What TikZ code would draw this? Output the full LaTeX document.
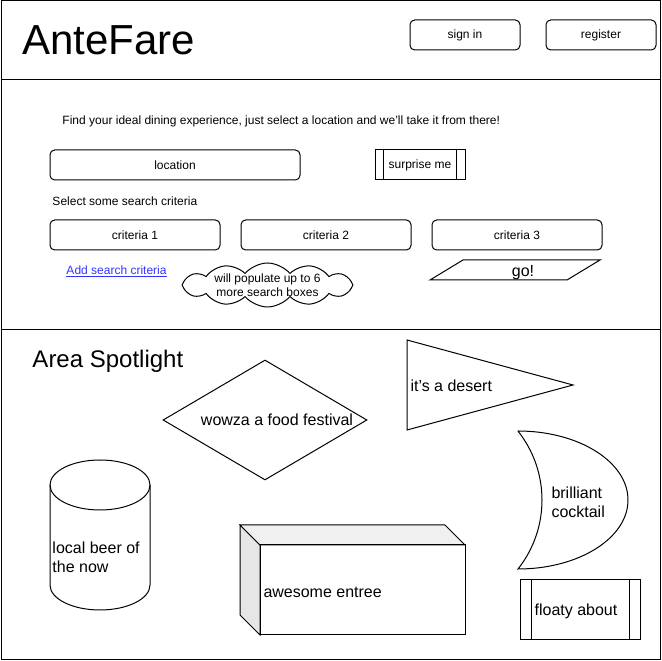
\documentclass[tikz,border=0pt]{standalone}
\usepackage{fontspec}
\setmainfont{Liberation Sans}
\usetikzlibrary{positioning}
\usetikzlibrary{shapes.geometric}
\usetikzlibrary{shapes.symbols}
\definecolor{linkblue}{RGB}{51,51,255}
\definecolor{topgrey}{RGB}{240,240,240}
\definecolor{sidegrey}{RGB}{230,230,230}
\tikzset{
	btnbox/.style={
		rectangle,
		rounded corners=3.5pt,
		draw=black,
		minimum width=82.5pt,
		minimum height=22.5pt,
		text centered,
		font=\fontsize{9}{11}\selectfont},
	procbox/.style={
		rectangle,
		draw=black,
		minimum height=22.5pt,
		text centered,
		font=\fontsize{9}{11}\selectfont},
	smalltext/.style={inner sep=0pt, anchor=west, font=\fontsize{9}{11}\selectfont},
	shapetext/.style={inner sep=0pt, align=left, font=\fontsize{12}{14.25}\selectfont},
}

\begin{document}
\begin{tikzpicture}
	[x=0.75pt, y=0.75pt,
	line width=0.75pt,
	node distance=15pt]

	\useasboundingbox (0,0) rectangle (662,661);
	% the three panels of the page
	\draw (1,660) rectangle (660,581);
	\draw (1,581) rectangle (660,331);
	\draw (1,331) rectangle (660,1);

	% header
	\node[inner sep=0pt, anchor=west, font=\fontsize{31.5}{36}\selectfont] (logo) at (22,621) {AnteFare};
	\node[btnbox] (signin) at (465,626) {sign in};
	\node[btnbox, right=18.75pt of signin] (register) {register};

	% search panel
	\node[smalltext] (intro) at (62,540) {Find your ideal dining experience, just select a location and we'll take it from there!};
	\node[btnbox, minimum width=187.5pt] (location) at (175,496) {location};
	\node[procbox, minimum width=67.5pt] (surprise) at (420,496) {surprise me};
	\draw ([xshift=6.75pt]surprise.north west) -- ([xshift=6.75pt]surprise.south west);
	\draw ([xshift=-6.75pt]surprise.north east) -- ([xshift=-6.75pt]surprise.south east);
	\node[smalltext] (select) at (52,460) {Select some search criteria};
	\node[btnbox, minimum width=127.5pt] (crit1) at (135,426) {criteria 1};
	\node[btnbox, minimum width=127.5pt, right=of crit1] (crit2) {criteria 2};
	\node[btnbox, minimum width=127.5pt, right=of crit2] (crit3) {criteria 3};
	\node[smalltext, text=linkblue] (addcrit) at (66,389.5) {\underline{Add search criteria}};
	\node[cloud, draw=black, cloud puffs=12, cloud puff arc=100, aspect=3.9,
		minimum width=128pt, minimum height=33pt, inner sep=0pt] (note) at (267.5,376) {};
	\node[inner sep=0pt, align=center, font=\fontsize{9}{10.9}\selectfont] (notetxt) at (note.center) {will populate up to 6\\more search boxes};
	\draw (430,381) -- (463,401) -- (600,401) -- (567,381) -- cycle;
	\node[shapetext] (go) at (523,388.5) {go!};

	% spotlight panel
	\node[inner sep=0pt, anchor=west, font=\fontsize{18}{22}\selectfont] (spot) at (32,300) {Area Spotlight};
	\node[diamond, draw=black, minimum width=153pt, minimum height=90pt, inner sep=0pt] (fest) at (265,241) {};
	\node[shapetext] (festtxt) at ([xshift=9pt]fest.center) {wowza a food festival};

	\draw (407,321) -- (573,276) -- (407,231) -- cycle;
	\node[shapetext, anchor=west] (desert) at (410,275) {it's a desert};

	\draw (518,230) arc[start angle=90, end angle=-90, x radius=110, y radius=69]
		arc[start angle=-38.4, end angle=38.4, radius=111] -- cycle;
	\node[shapetext, anchor=west] (cocktail) at (551,159) {brilliant\\cocktail};

	\node[procbox, minimum width=90pt, minimum height=45pt] (floaty) at (580,51) {};
	\node[shapetext] (floatytxt) at (576,49.5) {floaty about};
	\draw ([xshift=9pt]floaty.north west) -- ([xshift=9pt]floaty.south west);
	\draw ([xshift=-8.25pt]floaty.north east) -- ([xshift=-8.25pt]floaty.south east);

	% the can
	\draw (50,176) -- (50,76) arc[start angle=180, end angle=360, x radius=50, y radius=25] -- (150,176);
	\draw (100,176) ellipse [x radius=50, y radius=25];
	\node[shapetext, anchor=west] (beer) at (52,103.5) {local beer of\\the now};

	% the box
	\draw[fill=sidegrey] (240,136) -- (260,116) -- (260,26) -- (240,46) -- cycle;
	\draw[fill=topgrey] (240,136) -- (445,136) -- (465,116) -- (260,116) -- cycle;
	\draw (260,116) rectangle (465,26);
	\node[shapetext, anchor=west] (entree) at (263,69) {awesome entree};
\end{tikzpicture}
\end{document}
